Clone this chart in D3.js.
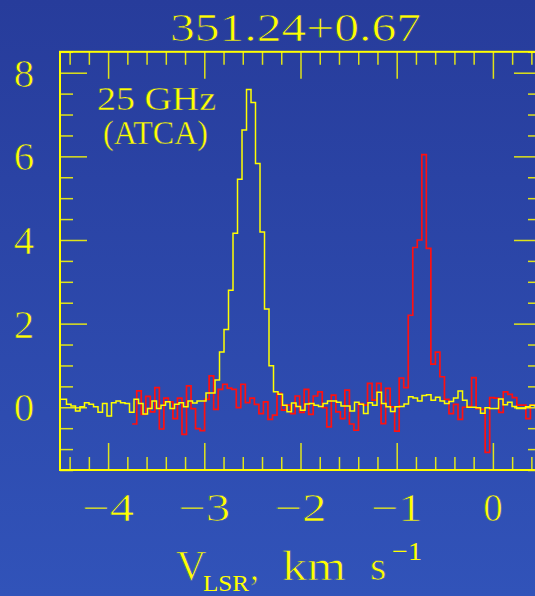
<!DOCTYPE html>
<html><head><meta charset="utf-8">
<script src="https://cdn.jsdelivr.net/npm/d3@7"></script>
<style>html,body{margin:0;padding:0;overflow:hidden;background:#2c47aa}</style>
</head><body><svg id="c" width="535" height="596"></svg>
<script>
// ---------------- data ----------------
const title = "351.24+0.67";
const annotLines = ["25 GHz", "(ATCA)"];
const xTickLabels = [-4, -3, -2, -1, 0];
const yTickLabels = [0, 2, 4, 6, 8];

// yellow spectrum: first channel velocity edge and channel width (km/s), then intensities
const yellowStart = -4.526;
const yellowWidth = 0.04678;
const yellowValues = [
  0.19, 0.19, 0.07, 0.03, -0.09, 0.01, 0.11, 0.07, 0.01, -0.12,
  0.09, -0.21, 0.11, 0.15, 0.11, 0.09, -0.12, 0.19, 0.09, -0.16,
  -0.03, 0.15, -0.03, 0.05, 0.13, -0.03, 0.07, 0.11, 0.01, 0.15,
  0.10, 0.15, 0.15, 0.34, 0.34, 0.65, 1.32, 1.86, 2.80, 4.16,
  5.45, 6.63, 7.60, 7.29, 5.83, 4.19, 2.35, 0.99, 0.37, 0.31,
  0.05, -0.11, 0.10, 0.02, -0.07, 0.08, 0.09, 0.05, 0.02, 0.09,
  0.15, 0.15, 0.12, 0.03, 0.03, -0.09, 0.12, 0.07, -0.15, 0.11,
  0.05, 0.36, 0.09, 0.01, -0.10, 0.01, 0.02, 0.08, 0.25, 0.22,
  0.15, 0.28, 0.30, 0.17, 0.24, 0.15, 0.09, 0.14, 0.22, 0.39,
  0.17, 0.00, 0.00, -0.01, -0.14, -0.01, -0.03, -0.03, 0.20, 0.06,
  0.12, 0.02, -0.03, -0.03, 0.01, 0.05, 0.03, 0.00
];

// red spectrum
const redStart = -3.7495;
const redWidth = 0.04704;
const redValues = [
  -0.40, 0.39, -0.17, 0.26, -0.11, 0.47, -0.52, 0.22, 0.13, -0.27,
  0.22, -0.65, 0.51, -0.03, -0.51, -0.56, 0.19, 0.75, -0.05, 0.43,
  0.55, 0.46, 0.43, -0.01, 0.55, 0.11, 0.22, 0.07, -0.15, 0.13,
  -0.29, -0.19, 0.33, -0.07, 0.05, -0.15, 0.27, -0.12, 0.43, -0.17,
  0.27, 0.37, -0.01, -0.47, 0.29, -0.11, -0.27, 0.41, -0.40, -0.55,
  0.09, 0.05, 0.57, 0.17, 0.57, -0.39, 0.45, 0.01, -0.57, 0.70,
  0.47, 2.20, 3.82, 4.00, 6.04, 3.80, 1.03, 1.32, 0.73, 0.19,
  -0.15, 0.07, -0.29, 0.00, 0.02, 0.71, -0.03, -0.05, -1.08, 0.23,
  0.22, -0.12, 0.37, 0.31, 0.23, 0.05, 0.05, -0.27, 0.05
];

// ---------------- layout ----------------
const W = 535, H = 596;
const L = 60, R = 541, T = 51.8, B = 470;
const YEL = "#ffff00", RED = "#ff1010";
const FONT = "'Liberation Serif', 'DejaVu Serif', serif";

const svg = d3.select("#c");
const defs = svg.append("defs");
const grad = defs.append("linearGradient").attr("id", "bg")
  .attr("gradientUnits", "userSpaceOnUse")
  .attr("x1", 0).attr("y1", 0).attr("x2", 0).attr("y2", H);
grad.append("stop").attr("offset", "0%").attr("stop-color", "#273c9b");
grad.append("stop").attr("offset", "100%").attr("stop-color", "#3153b9");
svg.append("rect").attr("width", W).attr("height", H).attr("fill", "url(#bg)");

defs.append("clipPath").attr("id", "plotclip").append("rect")
  .attr("x", L).attr("y", T).attr("width", R - L).attr("height", B - T);

const x = d3.scaleLinear().domain([-4.5, 0.5]).range([L, R]);
const y = d3.scaleLinear().domain([-1.5, 8.5]).range([B, T]);

// ---------------- spectra ----------------
function stepPoints(start, width, vals) {
  const pts = vals.map((v, i) => [start + i * width, v]);
  pts.push([start + vals.length * width, vals[vals.length - 1]]);
  return pts;
}
const line = d3.line().x(d => x(d[0])).y(d => y(d[1])).curve(d3.curveStepAfter);
const gData = svg.append("g").attr("clip-path", "url(#plotclip)");
gData.append("path").attr("d", line(stepPoints(redStart, redWidth, redValues)))
  .attr("fill", "none").attr("stroke", RED).attr("stroke-width", 1.7);
gData.append("path").attr("d", line(stepPoints(yellowStart, yellowWidth, yellowValues)))
  .attr("fill", "none").attr("stroke", YEL).attr("stroke-width", 1.5);

// ---------------- axes / ticks ----------------
const xMinor = d3.range(-4.4, 0.45, 0.2).map(v => +v.toFixed(2)).filter(v => Math.abs(v - Math.round(v)) > 1e-6);
const yMinor = d3.range(-1.5, 8.55, 0.5).filter(v => !(Math.abs(v % 2) < 1e-6));

function styleAxis(g) {
  g.select(".domain").remove();
  g.selectAll("line").attr("stroke", YEL).attr("stroke-width", 1.5).attr("stroke-opacity", 0.85);
  g.selectAll("text").remove();
}
for (const [fn, pos] of [[d3.axisBottom, B], [d3.axisTop, T]]) {
  svg.append("g").attr("transform", `translate(0,${pos})`)
    .call(fn(x).tickValues(xMinor).tickSize(-13).tickFormat("")).call(styleAxis);
  svg.append("g").attr("transform", `translate(0,${pos})`)
    .call(fn(x).tickValues(xTickLabels).tickSize(-27).tickFormat("")).call(styleAxis);
}
for (const [fn, pos] of [[d3.axisLeft, L], [d3.axisRight, R]]) {
  svg.append("g").attr("transform", `translate(${pos},0)`)
    .call(fn(y).tickValues(yMinor).tickSize(-13).tickFormat("")).call(styleAxis);
  svg.append("g").attr("transform", `translate(${pos},0)`)
    .call(fn(y).tickValues(yTickLabels).tickSize(-27).tickFormat("")).call(styleAxis);
}

svg.append("rect").attr("x", L).attr("y", T).attr("width", R - L).attr("height", B - T)
  .attr("fill", "none").attr("stroke", YEL).attr("stroke-width", 2);

// ---------------- text ----------------
// thin the glyph strokes slightly (background-coloured outline) to resemble the plotter font
const txt = (s, xx, yy, size) => svg.append("text").attr("x", xx).attr("y", yy)
  .attr("fill", YEL).attr("stroke", "url(#bg)").attr("stroke-width", size >= 36 ? 0.7 : (size >= 30 ? 0.4 : 0))
  .attr("font-family", FONT).attr("font-size", size).text(s);

txt(title, 170, 41, 41).attr("textLength", 251).attr("lengthAdjust", "spacingAndGlyphs");

const fmt = v => v < 0 ? "\u2212" + Math.abs(v) : String(v);
xTickLabels.forEach(v => {
  const t = txt(fmt(v), x(v), 521, 39).attr("text-anchor", "middle");
  if (v < 0) t.attr("textLength", 52).attr("lengthAdjust", "spacingAndGlyphs");
});
yTickLabels.forEach(v => {
  txt(fmt(v), 24, y(v) + 14, 41).attr("text-anchor", "middle");
});

txt(annotLines[0], 97, 110, 33).attr("textLength", 119).attr("lengthAdjust", "spacingAndGlyphs");
txt(annotLines[1], 103, 144, 33).attr("textLength", 105).attr("lengthAdjust", "spacingAndGlyphs");

// x axis label: V_LSR, km s^-1
txt("V", 176, 580, 42);
txt("LSR", 203, 591, 24).attr("textLength", 46).attr("lengthAdjust", "spacingAndGlyphs");
txt(",", 250, 580, 36);
txt("km", 282, 580, 42).attr("textLength", 64).attr("lengthAdjust", "spacingAndGlyphs");
txt("s", 370, 580, 42);
txt("\u22121", 392, 560, 26).attr("textLength", 30).attr("lengthAdjust", "spacingAndGlyphs");
</script></body></html>
